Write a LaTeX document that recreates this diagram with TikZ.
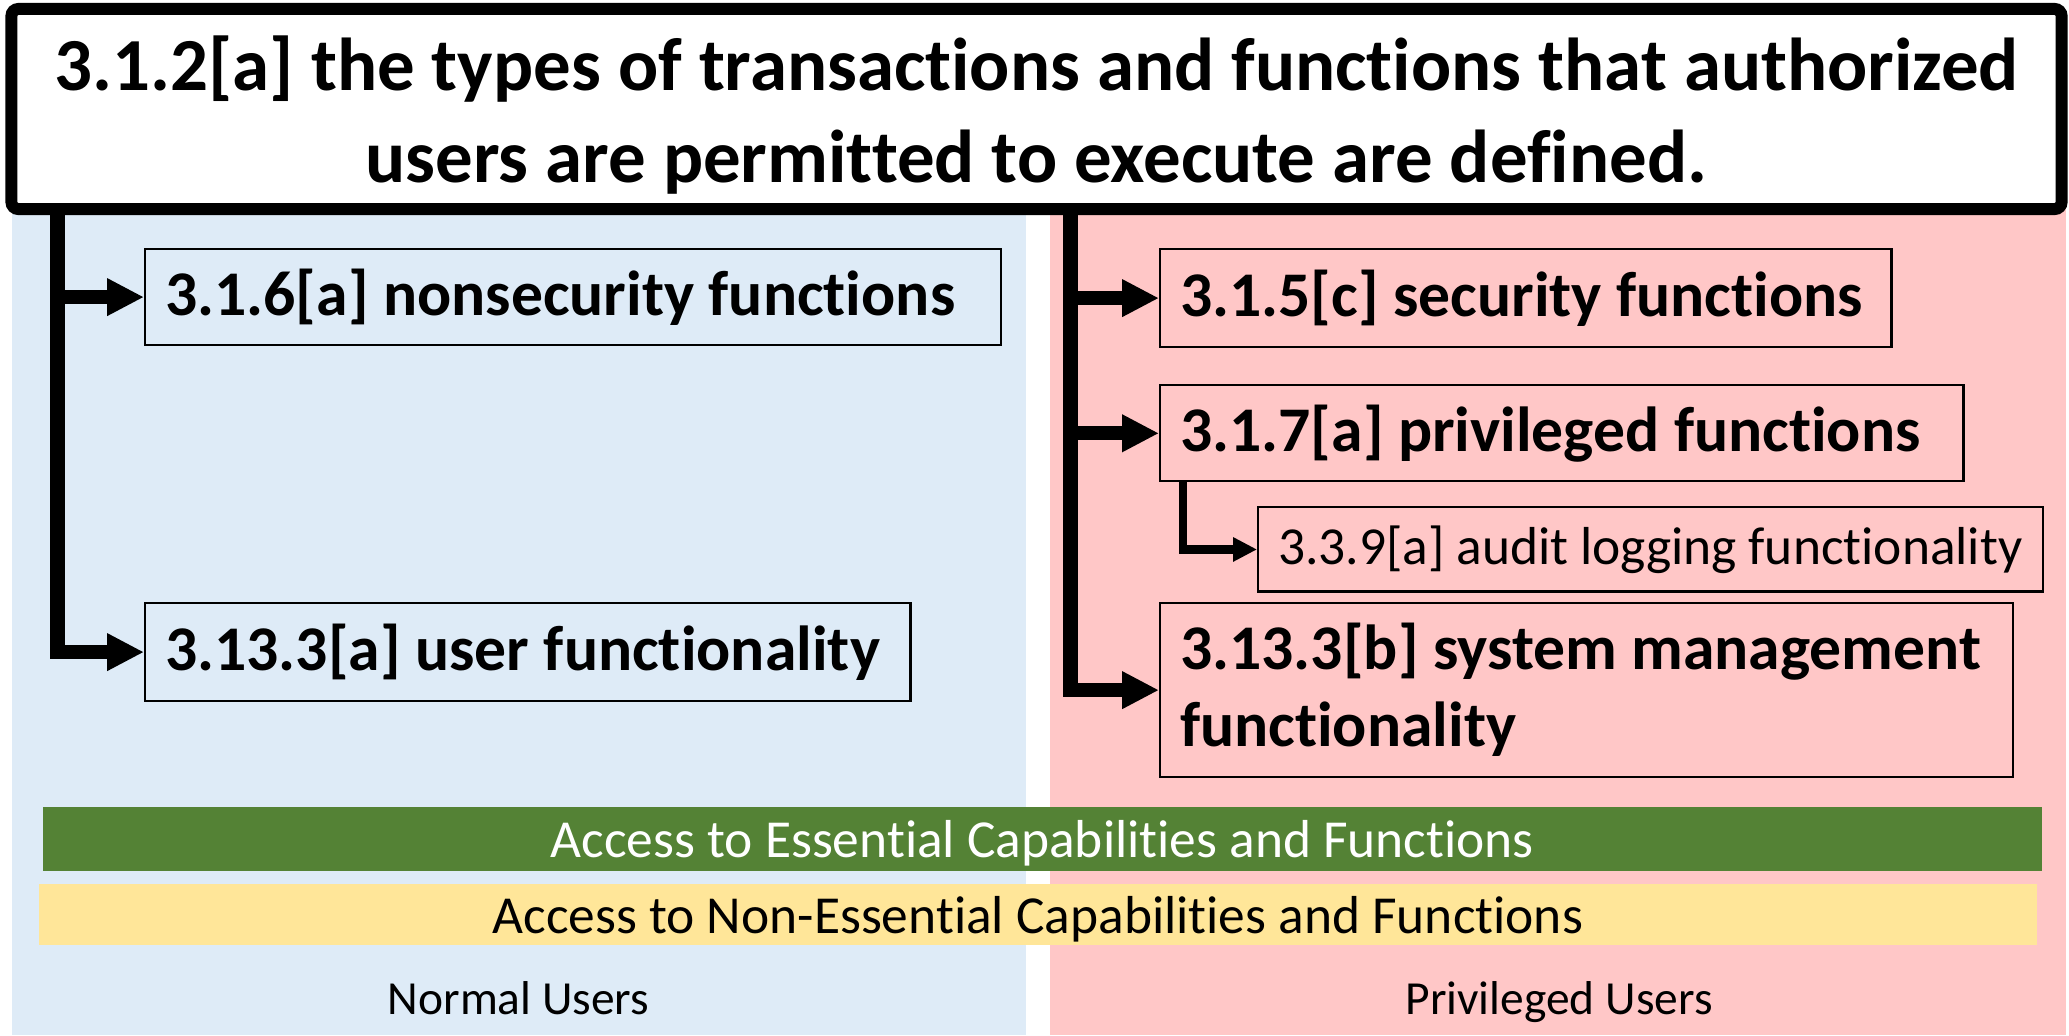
\documentclass[tikz,border=0pt]{standalone}
\usepackage{fontspec}
\setmainfont{Carlito}[Ligatures=NoCommon]
\usetikzlibrary{arrows.meta,positioning}
\definecolor{nublue}{RGB}{222,235,247}
\definecolor{prpink}{RGB}{255,199,199}
\definecolor{essgreen}{RGB}{84,130,53}
\definecolor{nonyellow}{RGB}{255,230,153}
\tikzstyle{branch} = [line width=4pt, -{Triangle[length=10.5pt,width=10pt]}]
\tikzstyle{subbranch} = [line width=2.3pt, -{Triangle[length=6.8pt,width=6.5pt]}]
\tikzstyle{reqnode} = [rectangle, draw, line width=0.6pt, anchor=north west, inner xsep=0.2cm,
    inner ysep=0pt, align=flush left, font=\fontsize{18.1}{21.9}\selectfont\bfseries]
\tikzstyle{subnode} = [reqnode, font=\fontsize{15.2}{18}\selectfont]
\tikzstyle{bar} = [rectangle, inner sep=0pt, text depth=0pt, font=\fontsize{15.2}{18}\selectfont]
\begin{document}
\begin{tikzpicture}[x=0.01cm, y=-0.01cm]
\useasboundingbox (0,0) rectangle (2069,1035);
% user panels
\fill[nublue] (12,150) rectangle (1026,1035);
\fill[prpink] (1050,150) rectangle (2066,1035);
% top requirement
\node[draw, line width=3.4pt, rounded corners=2pt, fill=white, minimum width=20.49cm, minimum height=2cm,
    align=flush center, inner sep=0pt, text depth=0pt, font=\fontsize{21.3}{26.2}\selectfont\bfseries] (req) at (1036.5,109)
    {3.1.2[a] the types of transactions and functions that authorized\\users are permitted to execute are defined.};
% normal users side
\node[reqnode, text width=8.15cm, minimum height=0.96cm] (nsec) at (144,248) {3.1.6[a] nonsecurity functions};
\node[reqnode, text width=7.25cm, minimum height=0.98cm] (usr) at (144,602) {3.13.3[a] user functionality};
% privileged users side
\node[reqnode, text width=6.91cm, minimum height=0.98cm] (sec) at (1159,248) {3.1.5[c] security functions};
\node[reqnode, text width=7.63cm, minimum height=0.96cm, below=0.36cm of sec.south west, anchor=north west] (priv) {3.1.7[a] privileged functions};
\node[subnode, text width=7.44cm, minimum height=0.84cm, below right=0.24cm and 0.98cm of priv.south west, anchor=north west] (audit) {3.3.9[a] audit logging functionality};
\node[reqnode, text width=8.12cm, minimum height=1.74cm] (sysm) at (1159,602) {3.13.3[b] system management\\functionality};
% connectors
\coordinate (lroot) at (57.5,209);
\coordinate (rroot) at (1070.5,209);
\draw[branch] (lroot) |- (usr.west);
\draw[branch] (lroot |- nsec.west) -- (nsec.west);
\draw[branch] (rroot) |- (sysm.west);
\draw[branch] (rroot |- sec.west) -- (sec.west);
\draw[branch] (rroot |- priv.west) -- (priv.west);
\draw[subbranch] ([xshift=0.24cm]priv.south west) |- (audit.west);
% access bars
\node[bar, fill=essgreen, text=white, minimum width=19.97cm, minimum height=0.64cm] (ess) at (1042.5,839) {Access to Essential Capabilities and Functions};
\node[bar, fill=nonyellow, minimum width=19.96cm, minimum height=0.61cm] (ness) at (1038,914.5) {Access to Non-Essential Capabilities and Functions};
\node[font=\fontsize{13.5}{16}\selectfont, anchor=base] (nusr) at (518.5,1014) {Normal Users};
\node[font=\fontsize{13.5}{16}\selectfont, anchor=base] (pusr) at (1559,1014) {Privileged Users};
\end{tikzpicture}
\end{document}
